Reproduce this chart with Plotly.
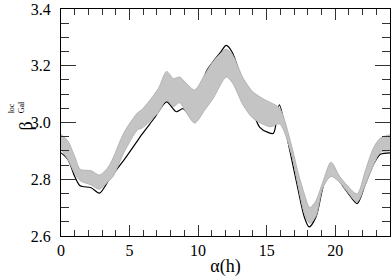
import plotly.graph_objects as go

# Black (single) curve
h_line = [0, 0.5, 1.0, 1.4, 2.2, 2.8, 3.6, 4.6, 5.6, 5.9, 6.8, 7.7, 8.4, 8.9, 9.6, 10.2, 10.6, 11.1,
          11.6, 12.05, 12.5, 13.3, 14.0, 14.5, 15.1, 15.5, 15.93, 16.5, 17.26, 17.75, 18.1, 18.6,
          19.1, 19.7, 20.3, 20.9, 21.6, 22.2, 22.8, 23.3, 24]
v_line = [2.893, 2.87, 2.81, 2.777, 2.77, 2.751, 2.806, 2.868, 2.937, 2.958, 3.015, 3.073, 3.038,
          3.049, 3.018, 3.12, 3.18, 3.215, 3.245, 3.272, 3.247, 3.131, 3.038, 2.983, 2.965, 2.962,
          3.062, 2.945, 2.771, 2.667, 2.632, 2.667, 2.771, 2.855, 2.795, 2.754, 2.714, 2.783, 2.853,
          2.888, 2.893]

# Gray band (ensemble envelope)
h_band = [0, 0.5, 1.0, 1.4, 2.2, 2.8, 3.4, 3.8, 4.6, 5.6, 5.9, 7.1, 7.7, 8.2, 8.65, 9.1, 9.75, 10.5,
          11.1, 12.05, 12.5, 13.3, 14.0, 14.7, 15.3, 15.95, 16.8, 17.26, 17.75, 18.15, 18.6, 19.1,
          19.7, 20.3, 20.9, 21.6, 22.2, 22.8, 23.3, 24]
band_top = [2.958, 2.935, 2.88, 2.835, 2.83, 2.815, 2.84, 2.875, 2.965, 3.035, 3.045, 3.12, 3.18,
            3.155, 3.16, 3.14, 3.115, 3.17, 3.215, 3.258, 3.24, 3.155, 3.108, 3.085, 3.07, 3.05,
            2.922, 2.83, 2.748, 2.70, 2.725, 2.79, 2.86, 2.812, 2.777, 2.748, 2.83, 2.911, 2.945,
            2.957]
band_bot = [2.905, 2.87, 2.82, 2.795, 2.78, 2.765, 2.79, 2.81, 2.895, 2.975, 2.98, 3.035, 3.079,
            3.056, 3.07, 3.038, 2.998, 3.045, 3.085, 3.16, 3.14, 3.06, 3.015, 2.995, 2.985, 2.995,
            2.89, 2.785, 2.68, 2.645, 2.67, 2.77, 2.81, 2.79, 2.755, 2.72, 2.78, 2.85, 2.895, 2.90]

x_ticks = [0, 5, 10, 15, 20]
y_ticks = [2.6, 2.8, 3.0, 3.2, 3.4]
x_range = [0, 24]
y_range = [2.5999, 3.4001]

fig = go.Figure()
fig.add_trace(go.Scatter(x=h_line, y=v_line, mode="lines",
                         line=dict(color="black", width=1.2, shape="spline", smoothing=0.8),
                         showlegend=False))
fig.add_trace(go.Scatter(x=h_band, y=band_bot, mode="lines",
                         line=dict(color="#b4b4b4", width=1, shape="spline", smoothing=0.8),
                         showlegend=False))
fig.add_trace(go.Scatter(x=h_band, y=band_top, mode="lines", fill="tonexty",
                         fillcolor="#c4c4c4",
                         line=dict(color="#b4b4b4", width=1, shape="spline", smoothing=0.8),
                         showlegend=False))
# empty trace so the mirrored tick axes (top / right) are drawn
fig.add_trace(go.Scatter(x=[], y=[], xaxis="x2", yaxis="y2", showlegend=False, hoverinfo="skip"))

serif = "Liberation Serif, Times New Roman, serif"
tickc = "#333"
axis_common = dict(showline=True, linecolor="black", linewidth=1, mirror=True,
                   ticks="inside", tickcolor=tickc, tickwidth=1, showgrid=False, zeroline=False,
                   tickfont=dict(family=serif, size=16, color="black"), ticklabeloverflow="allow")
x_minor = dict(dtick=1, ticklen=6, ticks="inside", tickcolor=tickc, showgrid=False)
y_minor = dict(tick0=2.6, dtick=0.05, ticklen=8, ticks="inside", tickcolor=tickc, showgrid=False)

fig.update_xaxes(range=x_range, tickvals=x_ticks, ticktext=[str(t) for t in x_ticks], ticklen=11,
                 minor=x_minor,
                 title=dict(text="α(h)", font=dict(family=serif, size=18, color="black"), standoff=4),
                 **axis_common)
fig.update_yaxes(range=y_range, tickvals=y_ticks, ticktext=[f"{t:.1f}" for t in y_ticks],
                 ticklen=15, ticklabelstandoff=6, minor=y_minor, **axis_common)

L, R, T, B, W, H = 61, 1, 6, 41, 392, 277
pw, ph = W - L - R, H - T - B


def px(x):
    return (x - L) / pw


def py(y):
    return (H - B - y) / ph


fig.add_annotation(text="β", x=px(14), y=py(125), xref="paper", yref="paper", showarrow=False,
                   textangle=-90, font=dict(family=serif, size=18, color="black"))
fig.add_annotation(text="loc", x=px(5), y=py(107), xref="paper", yref="paper", showarrow=False,
                   textangle=-90, font=dict(family=serif, size=8, color="black"))
fig.add_annotation(text="Gal", x=px(15), y=py(106), xref="paper", yref="paper", showarrow=False,
                   textangle=-90, font=dict(family=serif, size=8, color="black"))

fig.update_layout(
    width=W, height=H, margin=dict(l=L, r=R, t=T, b=B),
    paper_bgcolor="white", plot_bgcolor="white",
    xaxis2=dict(overlaying="x", side="top", range=x_range, tickvals=x_ticks, ticks="inside",
                ticklen=11, tickcolor=tickc, showticklabels=False, showgrid=False,
                zeroline=False, showline=False, minor=x_minor),
    yaxis2=dict(overlaying="y", side="right", range=y_range, tickvals=y_ticks, ticks="inside",
                ticklen=15, tickcolor=tickc, showticklabels=False, showgrid=False,
                zeroline=False, showline=False, minor=y_minor),
)

fig.write_html("out.html", config={"displayModeBar": False},
               post_script="document.body.style.margin='0';document.body.style.padding='0';"
                           "document.body.style.overflow='hidden';")
